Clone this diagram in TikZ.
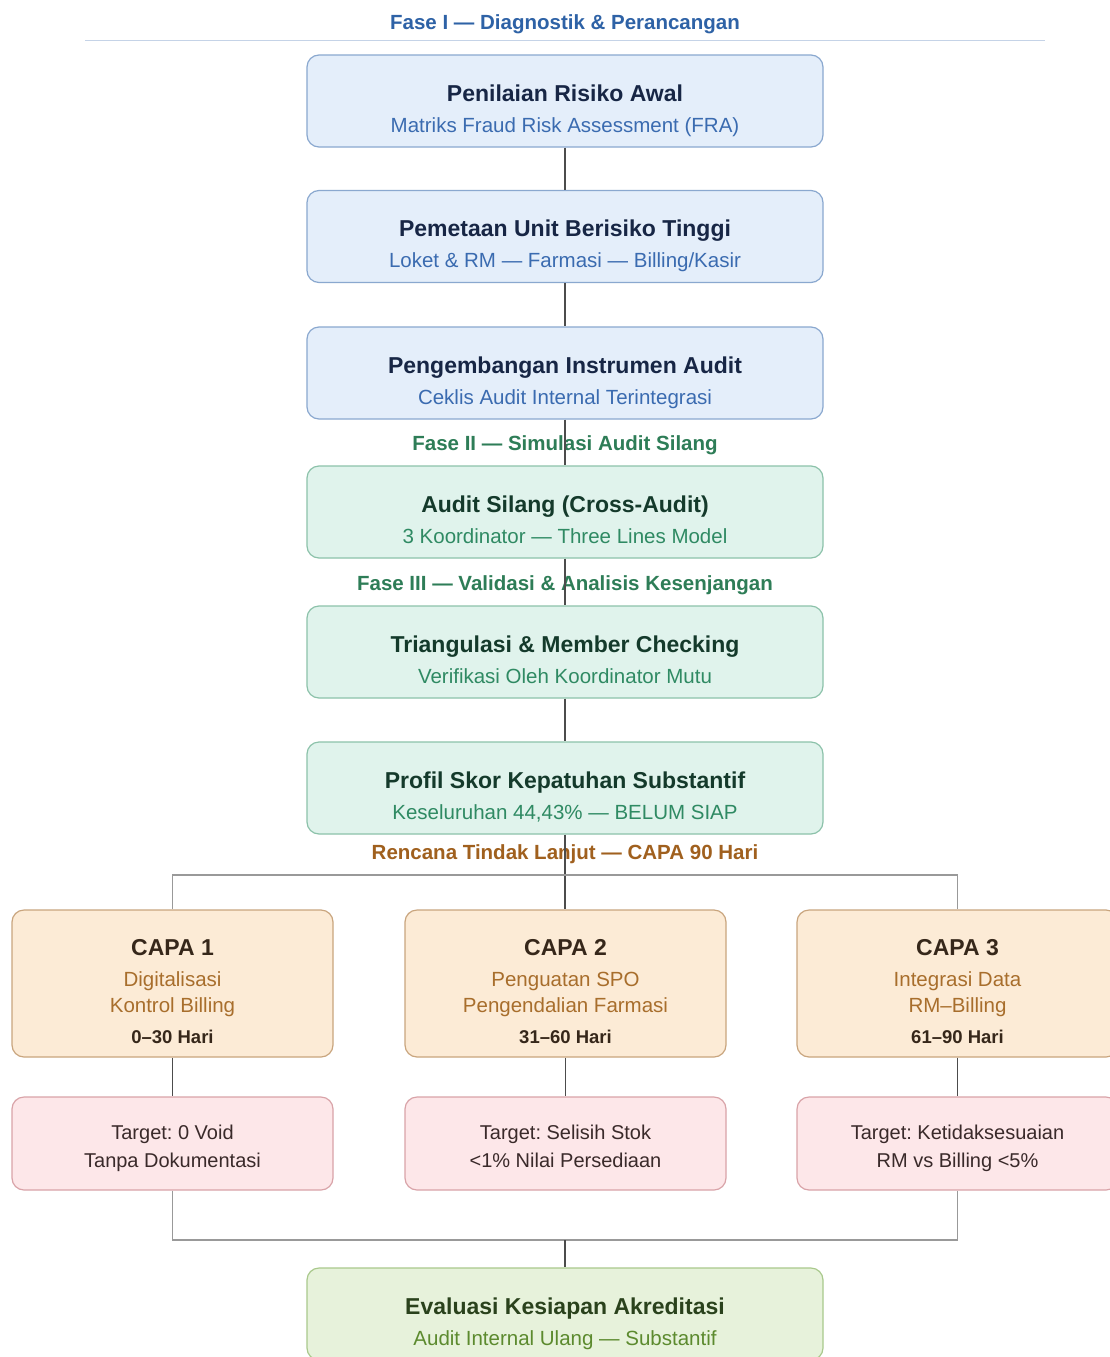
\documentclass[tikz,border=0pt]{standalone}
\usepackage{fontspec}
\setmainfont{Liberation Sans}
\usepackage{tikz}
\frenchspacing

\definecolor{bluefill}{HTML}{E4EEFA}
\definecolor{blueline}{HTML}{8AA8CF}
\definecolor{bluettl}{HTML}{172645}
\definecolor{bluesub}{HTML}{3A6BB0}
\definecolor{bluephase}{HTML}{2E62A6}
\definecolor{greenfill}{HTML}{E0F3EC}
\definecolor{greenline}{HTML}{8CC2AA}
\definecolor{greenttl}{HTML}{143A2B}
\definecolor{greensub}{HTML}{2F8A63}
\definecolor{greenphase}{HTML}{2E7D57}
\definecolor{capafill}{HTML}{FCEBD6}
\definecolor{capaline}{HTML}{C9A57E}
\definecolor{capattl}{HTML}{36271A}
\definecolor{capasub}{HTML}{A86E2C}
\definecolor{capaphase}{HTML}{A0601E}
\definecolor{tgtfill}{HTML}{FDE7E9}
\definecolor{tgtline}{HTML}{D9A3A8}
\definecolor{tgttext}{HTML}{3A2A2A}
\definecolor{evfill}{HTML}{E7F2DB}
\definecolor{evline}{HTML}{A9C98C}
\definecolor{evttl}{HTML}{2A421C}
\definecolor{evsub}{HTML}{5C8A2E}

\newcommand{\ttl}[1]{{\fontsize{23}{26}\selectfont\bfseries #1}}
\newcommand{\hari}[1]{{\fontsize{18.5}{22}\selectfont\bfseries #1}}
\newcommand{\upa}[1]{\rule{0pt}{#1}}
\newcommand{\dna}{\rule[-5pt]{0pt}{5pt}}

\begin{document}
\begin{tikzpicture}[x=1pt, y=-1pt,
    every node/.style={font=\fontsize{20.5}{24}\selectfont},
    box/.style={draw, rounded corners=12pt, line width=1.2pt, align=center,
      inner sep=0pt, minimum width=516pt, minimum height=92pt},
    fase1/.style={box, fill=bluefill, draw=blueline, text=bluesub},
    fase2/.style={box, fill=greenfill, draw=greenline, text=greensub},
    capa/.style={box, fill=capafill, draw=capaline, text=capasub,
      minimum width=321pt, minimum height=147pt, font=\fontsize{20.5}{26}\selectfont},
    target/.style={box, fill=tgtfill, draw=tgtline, text=tgttext,
      minimum width=321pt, minimum height=93pt, font=\fontsize{20}{28}\selectfont},
    evalbox/.style={box, fill=evfill, draw=evline, text=evsub},
    phase/.style={font=\fontsize{20.5}{24}\selectfont\bfseries},
    conn/.style={draw=black!70, line width=1.2pt},
    brk/.style={draw=black!40, line width=1.2pt}]

  \path[use as bounding box, clip] (0,0) rectangle (1110,1357);
  \fill[white] (0,0) rectangle (1110,1357);

  % Fase I
  \node[phase, text=bluephase] (p1) at (565,24) {Fase I — Diagnostik \& Perancangan};
  \draw[blueline!50, line width=1pt] (85,40) -- (1045,40);
  \node[fase1] (b1) at (565,101) {\upa{36pt}\textcolor{bluettl}{\ttl{Penilaian Risiko Awal}}\\[7pt]Matriks Fraud Risk Assessment (FRA)\dna};
  \node[fase1] (b2) at (565,236.5) {\upa{36pt}\textcolor{bluettl}{\ttl{Pemetaan Unit Berisiko Tinggi}}\\[7pt]Loket \& RM — Farmasi — Billing/Kasir\dna};
  \node[fase1] (b3) at (565,373) {\upa{36pt}\textcolor{bluettl}{\ttl{Pengembangan Instrumen Audit}}\\[7pt]Ceklis Audit Internal Terintegrasi\dna};

  % Fase II dan III
  \node[phase, text=greenphase] (p2) at (565,445) {Fase II — Simulasi Audit Silang};
  \node[fase2] (b4) at (565,512) {\upa{36pt}\textcolor{greenttl}{\ttl{Audit Silang (Cross-Audit)}}\\[7pt]3 Koordinator — Three Lines Model\dna};
  \node[phase, text=greenphase] (p3) at (565,585) {Fase III — Validasi \& Analisis Kesenjangan};
  \node[fase2] (b5) at (565,652) {\upa{36pt}\textcolor{greenttl}{\ttl{Triangulasi \& Member Checking}}\\[7pt]Verifikasi Oleh Koordinator Mutu\dna};
  \node[fase2] (b6) at (565,788) {\upa{36pt}\textcolor{greenttl}{\ttl{Profil Skor Kepatuhan Substantif}}\\[7pt]Keseluruhan 44,43\% — BELUM SIAP\dna};

  % CAPA
  \node[phase, text=capaphase] (p4) at (565,854) {Rencana Tindak Lanjut — CAPA 90 Hari};
  \node[capa] (c1) at (172.5,983.5) {\upa{36pt}\textcolor{capattl}{\ttl{CAPA 1}}\\[5pt]Digitalisasi\\Kontrol Billing\\[5pt]\textcolor{capattl}{\hari{0–30 Hari}}\dna};
  \node[capa] (c2) at (565.5,983.5) {\upa{36pt}\textcolor{capattl}{\ttl{CAPA 2}}\\[5pt]Penguatan SPO\\Pengendalian Farmasi\\[5pt]\textcolor{capattl}{\hari{31–60 Hari}}\dna};
  \node[capa] (c3) at (957.5,983.5) {\upa{36pt}\textcolor{capattl}{\ttl{CAPA 3}}\\[5pt]Integrasi Data\\RM–Billing\\[5pt]\textcolor{capattl}{\hari{61–90 Hari}}\dna};

  \node[target] (t1) at (172.5,1143.5) {\upa{25pt}Target: 0 Void\\Tanpa Dokumentasi\dna};
  \node[target] (t2) at (565.5,1143.5) {\upa{25pt}Target: Selisih Stok\\<1\% Nilai Persediaan\dna};
  \node[target] (t3) at (957.5,1143.5) {\upa{25pt}Target: Ketidaksesuaian\\RM vs Billing <5\%\dna};

  \node[evalbox] (ev) at (565,1314) {\upa{36pt}\textcolor{evttl}{\ttl{Evaluasi Kesiapan Akreditasi}}\\[7pt]Audit Internal Ulang — Substantif\dna};

  \coordinate (split) at (565,875);
  \coordinate (join) at (565,1240);

  % penghubung
  \draw[conn] (b1) -- (b2);
  \draw[conn] (b2) -- (b3);
  \draw[conn] (b3) -- (b4);
  \draw[conn] (b4) -- (b5);
  \draw[conn] (b5) -- (b6);
  \draw[conn] (b6.south) -- (b6.south |- c2.north);
  \draw[brk] (c1.north) |- (split) -| (c3.north);
  \draw[conn] (c1) -- (t1);
  \draw[conn] (c2) -- (t2);
  \draw[conn] (c3) -- (t3);
  \draw[brk] (t1.south) |- (join) -| (t3.south);
  \draw[conn] (join) -- (ev);
\end{tikzpicture}
\end{document}
